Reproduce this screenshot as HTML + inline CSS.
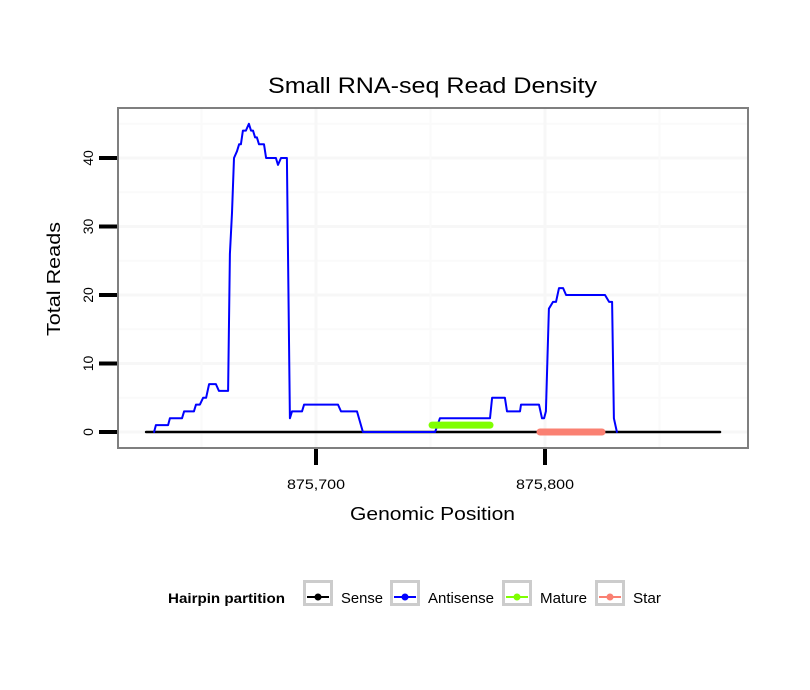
<!DOCTYPE html>
<html><head><meta charset="utf-8"><style>
body{margin:0;background:#fff;}
svg{display:block;font-family:"Liberation Sans",sans-serif;}
</style></head><body>
<svg id="chart" width="810" height="690" viewBox="0 0 810 690">
<rect x="0" y="0" width="810" height="690" fill="#fff"/>
<text x="268" y="93" font-size="22" textLength="329" lengthAdjust="spacingAndGlyphs" fill="#000">Small RNA-seq Read Density</text>
<g id="grid"></g>
<g id="series"></g>
<rect x="118" y="108" width="630" height="340" fill="none" stroke="#7f7f7f" stroke-width="2"/>
<g id="axes"></g>
<text x="0" y="0" transform="translate(60,336) rotate(-90)" font-size="18" textLength="114" lengthAdjust="spacingAndGlyphs">Total Reads</text>
<text x="350" y="520" font-size="18" textLength="165" lengthAdjust="spacingAndGlyphs">Genomic Position</text>
<g id="legend">
<text x="168" y="603" font-size="14" font-weight="bold" textLength="117" lengthAdjust="spacingAndGlyphs">Hairpin partition</text>
</g>
</svg>
<script>
const yTicks=[0,10,20,30,40];
const xTicks=[875700,875800];
const xTickLabels=["875,700","875,800"];
const xMinor=[875650,875750,875850];
const yMinor=[5,15,25,35,45];
const sensePos=[875625.8,875876.4];
const senseVal=[0,0];
const antiPos=[875629.3,875630.1,875635.4,875636.2,875641.5,875642.4,875646.7,875647.6,875649.3,875650.7,875652.0,875653.3,875656.3,875657.6,875661.6,875662.4,875663.3,875664.2,875665.5,875666.4,875667.2,875668.1,875669.4,875670.7,875671.6,875672.5,875673.4,875674.2,875675.1,875677.3,875678.2,875682.5,875683.4,875684.7,875687.3,875688.6,875689.5,875693.9,875694.8,875709.6,875710.9,875717.9,875720.5,
875750.7,875752.0,875754.1,875776.0,875776.9,875782.5,875783.4,875789.1,875789.5,875797.4,875798.7,875799.6,875800.4,875801.7,875803.5,875804.8,875806.1,875807.9,875809.2,875826.2,875828.0,875829.3,875830.1,875831.4];
const antiVal=[0,1,1,2,2,3,3,4,4,5,5,7,7,6,6,26,32,40,41,42,42,44,44,45,44,44,43,43,42,42,40,40,39,40,40,2,3,3,4,4,3,3,0,
0,0,2,2,5,5,3,3,4,4,2,2,3,18,19,19,21,21,20,20,19,19,2,0];
const maturePos=[875750.7,875776.0];
const matureVal=[1,1];
const starPos=[875797.8,875824.9];
const starVal=[0,0];
const legendLabels=["Sense","Antisense","Mature","Star"];
const legendLens=[42,66,47,28];
const legendColors=["#000","#0000ff","#7fff00","#fa8072"];
const legendBoxX=[303,390,502,595];

const NS="http://www.w3.org/2000/svg";
const xs=p=>316+(p-875700)*2.29;
const ys=v=>432-v*6.85;
function mk(tag,attrs,parent){const e=document.createElementNS(NS,tag);for(const k in attrs)e.setAttribute(k,attrs[k]);parent.appendChild(e);return e;}
const grid=document.getElementById('grid'),series=document.getElementById('series'),axes=document.getElementById('axes'),legend=document.getElementById('legend');

yMinor.forEach(v=>{const l=mk('line',{x1:119,x2:747,y1:ys(v),y2:ys(v),stroke:'#fafafa','stroke-width':2},grid);

});
yTicks.forEach(v=>{const l=mk('line',{x1:119,x2:747,y1:ys(v),y2:ys(v),stroke:'#f7f7f7','stroke-width':3},grid);

});
xMinor.forEach(p=>{const l=mk('line',{x1:xs(p),x2:xs(p),y1:109,y2:447,stroke:'#fafafa','stroke-width':2},grid);

});
xTicks.forEach(p=>{const l=mk('line',{x1:xs(p),x2:xs(p),y1:109,y2:447,stroke:'#f7f7f7','stroke-width':3},grid);

});

function path(pos,val,color,w,name){const d=pos.map((p,i)=>(i?'L':'M')+xs(p).toFixed(1)+','+ys(val[i]).toFixed(1)).join('');
const e=mk('path',{d:d,fill:'none',stroke:color,'stroke-width':w,'stroke-linejoin':'round','stroke-linecap':'round'},series);

}
path(sensePos,senseVal,'#000',2.5,'sense-line');
path(antiPos,antiVal,'#0000ff',2,'antisense-line');
path(maturePos,matureVal,'#7fff00',7,'mature-line');
path(starPos,starVal,'#fa8072',7,'star-line');

yTicks.forEach(v=>{const t=mk('line',{x1:99,x2:117,y1:ys(v),y2:ys(v),stroke:'#000','stroke-width':4},axes);


const tx=mk('text',{x:0,y:0,transform:`translate(${93},${ys(v)}) rotate(-90)`,'font-size':14,'text-anchor':'middle'},axes);
tx.textContent=v;

});
xTicks.forEach((p,i)=>{const t=mk('line',{x1:xs(p),x2:xs(p),y1:449,y2:465,stroke:'#000','stroke-width':4},axes);


const tx=mk('text',{x:xs(p)-29,y:489,'font-size':14,textLength:58,lengthAdjust:'spacingAndGlyphs'},axes);
tx.textContent=xTickLabels[i];

});

legendLabels.forEach((lab,i)=>{const bx=legendBoxX[i];
const g=mk('g',{},legend);


mk('rect',{x:bx+1.5,y:581.5,width:27,height:23,fill:'#fff',stroke:'#cccccc','stroke-width':3},g);
mk('line',{x1:bx+4,x2:bx+26,y1:597,y2:597,stroke:legendColors[i],'stroke-width':2},g);
mk('circle',{cx:bx+15,cy:597,r:3.5,fill:legendColors[i]},g);
const t=mk('text',{x:bx+38,y:603,'font-size':15,textLength:legendLens[i],lengthAdjust:'spacingAndGlyphs'},g);t.textContent=lab;});
</script>
</body></html>
